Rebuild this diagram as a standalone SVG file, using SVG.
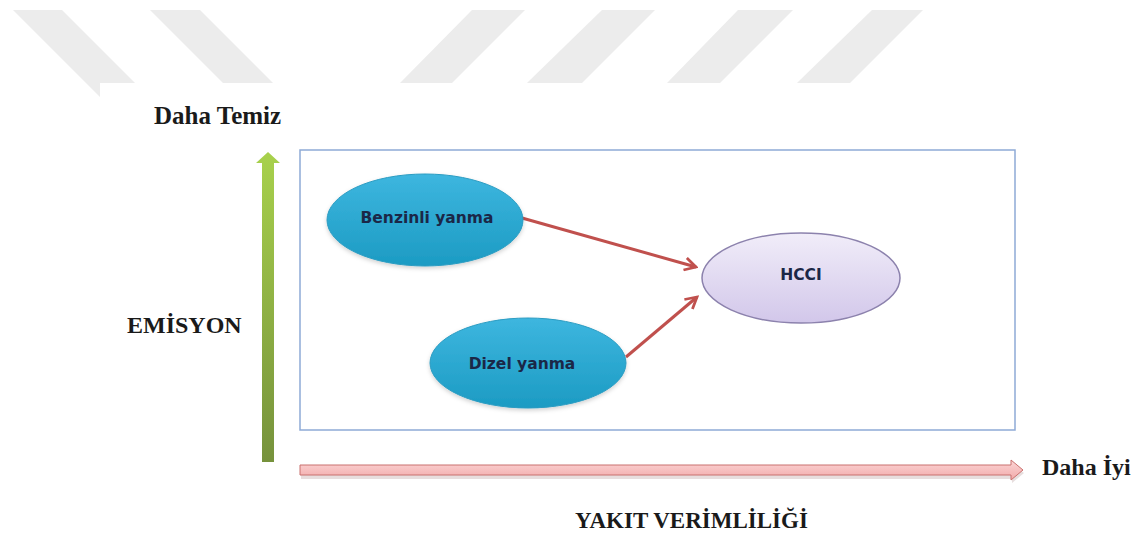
<svg xmlns="http://www.w3.org/2000/svg" width="1143" height="535" viewBox="0 0 1143 535">
  <defs>
    <style>
      .stripe { fill: #ececec; }
      .lbl { font-family: "Liberation Serif", "Times New Roman", serif; font-weight: bold; fill: #1a1a1a; }
      .ntxt { font-family: "DejaVu Sans", Verdana, sans-serif; font-weight: bold; font-size: 15.5px; fill: #1b2747; text-anchor: middle; }
      .blue { fill: url(#gBlue); stroke: #2b9cc2; stroke-width: 1; filter: url(#soft); }
      .conn { stroke: #c0504d; stroke-width: 3; fill: none; marker-end: url(#head); }
    </style>
    <linearGradient id="gBlue" x1="0" y1="0" x2="0" y2="1">
      <stop offset="0" stop-color="#3db6df"/>
      <stop offset="1" stop-color="#1c9bc3"/>
    </linearGradient>
    <linearGradient id="gLav" x1="0" y1="0" x2="0" y2="1">
      <stop offset="0" stop-color="#f1edf9"/>
      <stop offset="1" stop-color="#d2c7ea"/>
    </linearGradient>
    <linearGradient id="gGreen" x1="0" y1="0" x2="0" y2="1">
      <stop offset="0" stop-color="#a8d14c"/>
      <stop offset="1" stop-color="#76923c"/>
    </linearGradient>
    <linearGradient id="gPink" x1="0" y1="0" x2="0" y2="1">
      <stop offset="0" stop-color="#fcd6d6"/>
      <stop offset="1" stop-color="#f2a9a9"/>
    </linearGradient>
    <filter id="soft" x="-20%" y="-20%" width="140%" height="150%">
      <feDropShadow dx="0" dy="2" stdDeviation="2" flood-color="#000" flood-opacity="0.18"/>
    </filter>
    <marker id="head" viewBox="0 0 12 12" refX="10" refY="6" markerWidth="5" markerHeight="5" orient="auto" markerUnits="strokeWidth">
      <path d="M1,1 L10,6 L1,11" fill="none" stroke="#c0504d" stroke-width="2.2" stroke-linejoin="miter"/>
    </marker>
  </defs>

  <rect x="0" y="0" width="1143" height="535" fill="#ffffff"/>

  <g id="watermark">
    <polygon class="stripe" points="13,10 62,10 149,97 100,97"/>
    <polygon class="stripe" points="150,10 200,10 273,83 223,83"/>
    <polygon class="stripe" points="472,10 525,10 452,83 400,83"/>
    <polygon class="stripe" points="602,10 655,10 582,83 527,83"/>
    <polygon class="stripe" points="738,10 793,10 720,83 667,83"/>
    <polygon class="stripe" points="872,10 923,10 850,83 797,83"/>
    <rect x="100" y="83" width="1043" height="452" fill="#ffffff"/>
  </g>

  <g id="frame">
    <rect x="300" y="150" width="715" height="280" fill="#ffffff" stroke="#8eaad6" stroke-width="1.5"/>
  </g>

  <g id="axis-emission">
    <path d="M262,462 L262,163 L256,163 L268,152 L280,163 L274,163 L274,462 Z" fill="url(#gGreen)"/>
  </g>
  <g id="axis-efficiency">
    <path d="M300,467 L1011,467 L1011,462 L1023,471 L1011,481 L1011,477 L300,477 Z" fill="#b9a0a0" opacity="0.35" transform="translate(1,2)"/>
    <path d="M300,465 L1011,465 L1011,460 L1023,470 L1011,480 L1011,475 L300,475 Z" fill="url(#gPink)" stroke="#c9706e" stroke-width="1"/>
  </g>

  <g id="connectors">
    <line class="conn" x1="522" y1="218" x2="696" y2="267"/>
    <line class="conn" x1="626" y1="357" x2="697" y2="297"/>
  </g>

  <g id="node-benzinli">
    <ellipse class="blue" cx="425" cy="220" rx="98" ry="46"/>
    <text class="ntxt" x="427" y="223">Benzinli yanma</text>
  </g>
  <g id="node-dizel">
    <ellipse class="blue" cx="528" cy="363" rx="98" ry="45"/>
    <text class="ntxt" x="522" y="369">Dizel yanma</text>
  </g>
  <g id="node-hcci">
    <ellipse cx="801" cy="278" rx="99" ry="45" fill="url(#gLav)" stroke="#8c82ad" stroke-width="1.5"/>
    <text class="ntxt" x="801" y="280">HCCI</text>
  </g>

  <g id="labels">
    <text class="lbl" x="154" y="124" font-size="25">Daha Temiz</text>
    <text class="lbl" x="127" y="333" font-size="24">EMİSYON</text>
    <text class="lbl" x="1042" y="475" font-size="24">Daha İyi</text>
    <text class="lbl" x="575" y="528" font-size="23">YAKIT VERİMLİLİĞİ</text>
  </g>
</svg>
